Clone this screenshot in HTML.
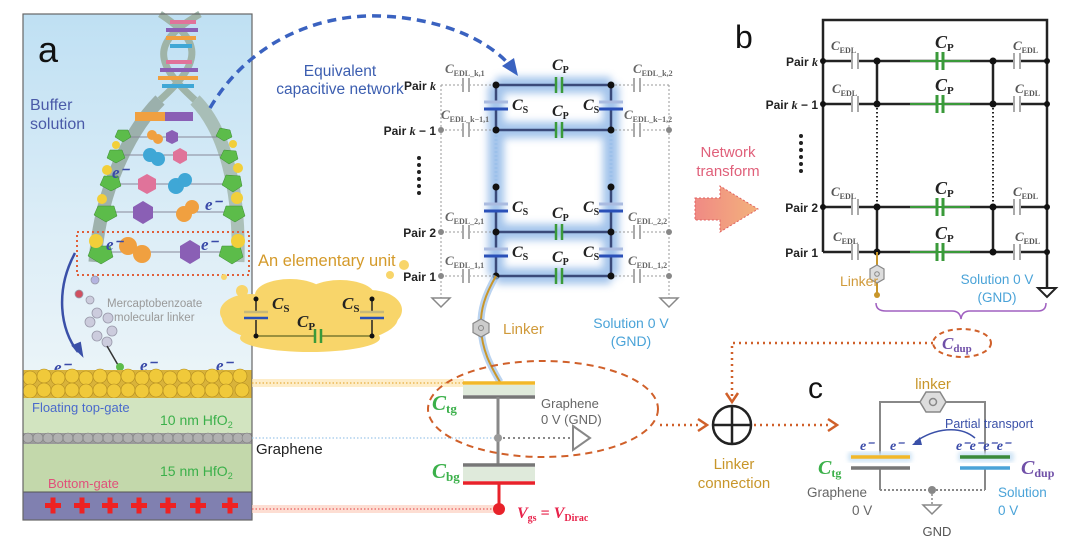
<!DOCTYPE html>
<html><head><meta charset="utf-8"><style>
html,body{margin:0;padding:0;background:#fff;}
svg{display:block;font-family:"Liberation Sans",sans-serif;}
.ser{font-family:"Liberation Serif",serif;font-style:italic;font-weight:bold;}
</style></head><body>
<svg width="1080" height="548" viewBox="0 0 1080 548" xmlns="http://www.w3.org/2000/svg">
<defs>
<linearGradient id="sky" x1="0" y1="0" x2="0" y2="1">
<stop offset="0" stop-color="#bfe0f3"/><stop offset="0.6" stop-color="#dcedf7"/><stop offset="1" stop-color="#eaf4f8"/></linearGradient>
<linearGradient id="arr" x1="0" y1="0" x2="1" y2="0"><stop offset="0" stop-color="#f08a84"/><stop offset="1" stop-color="#f3b27c"/></linearGradient>
<filter id="blur" x="-20%" y="-20%" width="140%" height="140%"><feGaussianBlur stdDeviation="4"/></filter>
<filter id="blur2"><feGaussianBlur stdDeviation="2"/></filter>
</defs>

<!-- ===== Panel a ===== -->
<rect x="23" y="14" width="229" height="356" fill="url(#sky)"/>
<path d="M160,14 C200,40 205,60 160,100" stroke="#9fb4a8" stroke-width="7" fill="none"/>
<path d="M200,14 C155,40 150,60 195,100" stroke="#9fb4a8" stroke-width="7" fill="none"/>
<g stroke-width="4">
<line x1="170" y1="22" x2="196" y2="22" stroke="#e0739a"/><line x1="166" y1="30" x2="198" y2="30" stroke="#8a5fb5"/>
<line x1="166" y1="38" x2="196" y2="38" stroke="#f0a040"/><line x1="170" y1="46" x2="192" y2="46" stroke="#3fa7d6"/>
<line x1="166" y1="62" x2="192" y2="62" stroke="#e0739a"/><line x1="160" y1="70" x2="198" y2="70" stroke="#8a5fb5"/>
<line x1="158" y1="78" x2="198" y2="78" stroke="#f0a040"/><line x1="162" y1="86" x2="194" y2="86" stroke="#3fa7d6"/>
</g>
<path d="M160,100 C130,130 100,190 95,262" stroke="#8fa39a" stroke-width="13" fill="none" opacity="0.8"/>
<path d="M195,100 C225,130 240,190 238,262" stroke="#9fb4a8" stroke-width="13" fill="none" opacity="0.8"/>
<rect x="135" y="112" width="30" height="9" fill="#f0a040"/><rect x="165" y="112" width="28" height="9" fill="#8a5fb5"/>
<g stroke="#889" stroke-width="1">
<line x1="120" y1="137" x2="225" y2="137"/><line x1="112" y1="155" x2="230" y2="155"/><line x1="106" y1="184" x2="234" y2="184"/><line x1="100" y1="212" x2="236" y2="212"/><line x1="96" y1="252" x2="238" y2="252"/></g>
<g>
<circle cx="152" cy="135" r="5" fill="#f0a040"/><circle cx="158" cy="139" r="5" fill="#f0a040"/><polygon points="172,130 178,133 178,141 172,144 166,141 166,133" fill="#8a5fb5"/>
<circle cx="150" cy="155" r="7" fill="#3fa7d6"/><circle cx="158" cy="159" r="7" fill="#3fa7d6"/><polygon points="180,148 187,152 187,160 180,164 173,160 173,152" fill="#e0739a"/>
<polygon points="147,174 156,179 156,189 147,194 138,189 138,179" fill="#e0739a"/><circle cx="176" cy="186" r="8" fill="#3fa7d6"/><circle cx="185" cy="180" r="7" fill="#3fa7d6"/>
<polygon points="143,201 153,207 153,218 143,224 133,218 133,207" fill="#8a5fb5"/><circle cx="184" cy="214" r="8" fill="#f0a040"/><circle cx="192" cy="207" r="7" fill="#f0a040"/>
<circle cx="128" cy="246" r="9" fill="#f0a040"/><circle cx="142" cy="254" r="9" fill="#f0a040"/><polygon points="190,240 200,246 200,258 190,264 180,258 180,246" fill="#8a5fb5"/>
</g>
<g fill="#5cbc4a" stroke="#3a8a30" stroke-width="0.5">
<polygon points="118,130 128,130 131,137 123,142 115,137"/><polygon points="220,128 230,130 232,137 224,141 216,136"/>
<polygon points="110,150 122,150 125,158 116,163 107,158"/><polygon points="224,150 236,151 238,159 229,164 220,158"/>
<polygon points="104,176 118,176 121,186 111,191 100,185"/><polygon points="226,175 240,176 242,186 233,192 222,185"/>
<polygon points="98,206 114,206 117,216 106,222 94,215"/><polygon points="226,206 242,206 245,216 235,222 223,215"/>
<polygon points="92,246 110,246 113,257 101,264 88,256"/><polygon points="222,246 240,246 243,257 232,264 219,256"/>
</g>
<g fill="#f2cf3a"><circle cx="116" cy="145" r="4"/><circle cx="233" cy="144" r="4"/><circle cx="107" cy="170" r="5"/><circle cx="238" cy="168" r="5"/><circle cx="102" cy="199" r="5"/><circle cx="237" cy="198" r="6"/><circle cx="96" cy="241" r="7"/><circle cx="238" cy="241" r="7"/></g>
<g class="ser" fill="#3a4aa8" font-size="17">
<text x="112" y="178">e⁻</text><text x="205" y="210">e⁻</text><text x="106" y="250">e⁻</text><text x="201" y="250">e⁻</text>
<text x="54" y="373">e⁻</text><text x="140" y="371">e⁻</text><text x="216" y="371">e⁻</text></g>
<rect x="77" y="232" width="172" height="43" fill="none" stroke="#e0603a" stroke-width="2" stroke-dasharray="2,3"/>
<text x="30" y="110" font-size="16" fill="#4a5aa8">Buffer</text>
<text x="30" y="129" font-size="16" fill="#4a5aa8">solution</text>
<text x="38" y="62" font-size="36" fill="#111">a</text>
<path d="M75,253 C55,290 60,330 78,352" stroke="#3a50a8" stroke-width="2.5" fill="none"/>
<polygon points="73,346 82,355 80,343" fill="#3a50a8" stroke="#3a50a8" stroke-width="2"/>
<g fill="#ccd" stroke="#99a" stroke-width="0.8">
<circle cx="95" cy="280" r="4" fill="#b4b4e0"/><circle cx="79" cy="294" r="4" fill="#d05060"/><circle cx="90" cy="300" r="4"/>
<circle cx="97" cy="313" r="5"/><circle cx="108" cy="318" r="5"/><circle cx="90" cy="322" r="5"/><circle cx="112" cy="331" r="5"/><circle cx="97" cy="336" r="5"/><circle cx="107" cy="342" r="5"/></g>
<line x1="107" y1="346" x2="118" y2="365" stroke="#333" stroke-width="1.5"/>
<circle cx="120" cy="367" r="4" fill="#5cbc4a"/>
<text x="107" y="307" font-size="11.5" fill="#999">Mercaptobenzoate</text>
<text x="114" y="321" font-size="11.5" fill="#999">molecular linker</text>
<rect x="23" y="370" width="229" height="28" fill="#d9b33a"/>
<g fill="#f0c93a" stroke="#b08a20" stroke-width="0.6">
<circle cx="30" cy="378" r="7"/><circle cx="44" cy="376" r="7"/><circle cx="58" cy="378" r="7"/><circle cx="72" cy="376" r="7"/><circle cx="86" cy="378" r="7"/><circle cx="100" cy="376" r="7"/><circle cx="114" cy="378" r="7"/><circle cx="128" cy="376" r="7"/><circle cx="142" cy="378" r="7"/><circle cx="156" cy="376" r="7"/><circle cx="170" cy="378" r="7"/><circle cx="184" cy="376" r="7"/><circle cx="198" cy="378" r="7"/><circle cx="212" cy="376" r="7"/><circle cx="226" cy="378" r="7"/><circle cx="240" cy="376" r="7"/>
<circle cx="30" cy="391" r="7"/><circle cx="44" cy="390" r="7"/><circle cx="58" cy="391" r="7"/><circle cx="72" cy="390" r="7"/><circle cx="86" cy="391" r="7"/><circle cx="100" cy="390" r="7"/><circle cx="114" cy="391" r="7"/><circle cx="128" cy="390" r="7"/><circle cx="142" cy="391" r="7"/><circle cx="156" cy="390" r="7"/><circle cx="170" cy="391" r="7"/><circle cx="184" cy="390" r="7"/><circle cx="198" cy="391" r="7"/><circle cx="212" cy="390" r="7"/><circle cx="226" cy="391" r="7"/><circle cx="242" cy="390" r="7"/></g>
<rect x="23" y="398" width="229" height="35" fill="#d2e4c0"/>
<rect x="23" y="444" width="229" height="48" fill="#c3d8ab"/>
<rect x="23" y="433" width="229" height="11" fill="#9a9a9a"/>
<g fill="#b0b0b0" stroke="#777" stroke-width="0.5">
<circle cx="28" cy="438" r="5"/><circle cx="38" cy="438" r="5"/><circle cx="48" cy="438" r="5"/><circle cx="58" cy="438" r="5"/><circle cx="68" cy="438" r="5"/><circle cx="78" cy="438" r="5"/><circle cx="88" cy="438" r="5"/><circle cx="98" cy="438" r="5"/><circle cx="108" cy="438" r="5"/><circle cx="118" cy="438" r="5"/><circle cx="128" cy="438" r="5"/><circle cx="138" cy="438" r="5"/><circle cx="148" cy="438" r="5"/><circle cx="158" cy="438" r="5"/><circle cx="168" cy="438" r="5"/><circle cx="178" cy="438" r="5"/><circle cx="188" cy="438" r="5"/><circle cx="198" cy="438" r="5"/><circle cx="208" cy="438" r="5"/><circle cx="218" cy="438" r="5"/><circle cx="228" cy="438" r="5"/><circle cx="238" cy="438" r="5"/><circle cx="247" cy="438" r="5"/></g>
<rect x="23" y="492" width="229" height="28" fill="#8080b0" stroke="#555" stroke-width="1"/>
<g fill="#ee2222">
<rect x="45" y="503" width="16" height="5"/><rect x="50.5" y="497.5" width="5" height="16"/>
<rect x="74" y="503" width="16" height="5"/><rect x="79.5" y="497.5" width="5" height="16"/>
<rect x="102" y="503" width="16" height="5"/><rect x="107.5" y="497.5" width="5" height="16"/>
<rect x="131" y="503" width="16" height="5"/><rect x="136.5" y="497.5" width="5" height="16"/>
<rect x="160" y="503" width="16" height="5"/><rect x="165.5" y="497.5" width="5" height="16"/>
<rect x="190" y="503" width="16" height="5"/><rect x="195.5" y="497.5" width="5" height="16"/>
<rect x="222" y="503" width="16" height="5"/><rect x="227.5" y="497.5" width="5" height="16"/></g>
<rect x="23" y="14" width="229" height="506" fill="none" stroke="#666" stroke-width="1.2"/>
<text x="32" y="412" font-size="13" fill="#4a6acb">Floating top-gate</text>
<text x="160" y="425" font-size="14" fill="#3bb04a">10 nm HfO<tspan font-size="9" dy="3">2</tspan></text>
<text x="160" y="476" font-size="14" fill="#3bb04a">15 nm HfO<tspan font-size="9" dy="3">2</tspan></text>
<text x="48" y="488" font-size="13" fill="#e0507a">Bottom-gate</text>
<text x="256" y="454" font-size="15" fill="#222">Graphene</text>

<rect x="252" y="379" width="212" height="8" fill="#fde6b0" opacity="0.7"/>
<line x1="252" y1="383" x2="464" y2="383" stroke="#e8b040" stroke-width="1.2" stroke-dasharray="1.5,2"/>
<line x1="252" y1="438" x2="496" y2="438" stroke="#9fc8ea" stroke-width="1.2" stroke-dasharray="1.5,2"/>
<rect x="252" y="505" width="248" height="8" fill="#fcd0c0" opacity="0.7"/>
<line x1="252" y1="509" x2="496" y2="509" stroke="#e86060" stroke-width="1.2" stroke-dasharray="1.5,2"/>

<path d="M210,108 C250,40 320,14 380,16 C440,18 490,40 512,68" stroke="#3a62c0" stroke-width="3.5" fill="none" stroke-dasharray="9,6"/>
<polygon points="502,66 518,76 514,58" fill="#3a62c0"/>
<text x="340" y="76" font-size="15.5" fill="#3c5eb0" text-anchor="middle">Equivalent</text>
<text x="340" y="94" font-size="15.5" fill="#3c5eb0" text-anchor="middle">capacitive network</text>

<text x="258" y="266" font-size="16.5" fill="#d49a2a">An elementary unit</text>
<g fill="#f8d56a"><circle cx="404" cy="265" r="5"/><circle cx="390" cy="275" r="4"/><circle cx="242" cy="291" r="6"/><circle cx="224" cy="277" r="3"/></g>
<g fill="#f8d56a">
<ellipse cx="310" cy="318" rx="88" ry="28"/><ellipse cx="250" cy="312" rx="30" ry="18"/><ellipse cx="370" cy="310" rx="32" ry="20"/>
<ellipse cx="290" cy="295" rx="35" ry="16"/><ellipse cx="340" cy="296" rx="35" ry="16"/><ellipse cx="310" cy="338" rx="70" ry="14"/></g>
<g stroke="#222" stroke-width="1.5" fill="none">
<line x1="256" y1="299" x2="256" y2="313"/><line x1="256" y1="320" x2="256" y2="336"/>
<line x1="372" y1="299" x2="372" y2="313"/><line x1="372" y1="320" x2="372" y2="336"/>
<line x1="256" y1="336" x2="314" y2="336" stroke="#7a7a30"/><line x1="322" y1="336" x2="372" y2="336" stroke="#7a7a30"/></g>
<line x1="244" y1="312" x2="268" y2="312" stroke="#c8b878" stroke-width="2.5"/><line x1="244" y1="318" x2="268" y2="318" stroke="#2a50b8" stroke-width="2.5"/>
<line x1="360" y1="312" x2="384" y2="312" stroke="#c8b878" stroke-width="2.5"/><line x1="360" y1="318" x2="384" y2="318" stroke="#2a50b8" stroke-width="2.5"/>
<line x1="315" y1="329" x2="315" y2="343" stroke="#3a9a3a" stroke-width="2.5"/><line x1="321" y1="329" x2="321" y2="343" stroke="#3a9a3a" stroke-width="2.5"/>
<g fill="#111"><circle cx="256" cy="299" r="2.5"/><circle cx="256" cy="336" r="2.5"/><circle cx="372" cy="299" r="2.5"/><circle cx="372" cy="336" r="2.5"/></g>
<text x="272" y="309" class="ser" font-size="17" fill="#222">C<tspan font-size="11" dy="3" font-style="normal">S</tspan></text>
<text x="342" y="309" class="ser" font-size="17" fill="#222">C<tspan font-size="11" dy="3" font-style="normal">S</tspan></text>
<text x="297" y="327" class="ser" font-size="17" fill="#222">C<tspan font-size="11" dy="3" font-style="normal">P</tspan></text>

<!-- ===== middle network ===== -->
<g filter="url(#blur)" opacity="0.5" fill="none" stroke="#4a8ad8" stroke-width="16">
<path d="M496,85 H611 M496,130 H611 M496,232 H611 M496,276 H611 M496,85 V276 M611,85 V276"/></g>
<g stroke="#999" stroke-width="1" stroke-dasharray="2,2" fill="none">
<line x1="441" y1="85" x2="496" y2="85"/><line x1="611" y1="85" x2="669" y2="85"/>
<line x1="441" y1="130" x2="496" y2="130"/><line x1="611" y1="130" x2="669" y2="130"/>
<line x1="441" y1="232" x2="496" y2="232"/><line x1="611" y1="232" x2="669" y2="232"/>
<line x1="441" y1="276" x2="496" y2="276"/><line x1="611" y1="276" x2="669" y2="276"/>
<line x1="441" y1="85" x2="441" y2="298"/><line x1="669" y1="85" x2="669" y2="298"/></g>
<g fill="#fff"><rect x="463" y="80" width="6" height="10"/><rect x="634" y="80" width="6" height="10"/><rect x="463" y="125" width="6" height="10"/><rect x="634" y="125" width="6" height="10"/><rect x="463" y="227" width="6" height="10"/><rect x="634" y="227" width="6" height="10"/><rect x="463" y="271" width="6" height="10"/><rect x="634" y="271" width="6" height="10"/></g>
<g stroke="#aaa" stroke-width="2">
<line x1="463" y1="78" x2="463" y2="92"/><line x1="469" y1="78" x2="469" y2="92"/><line x1="634" y1="78" x2="634" y2="92"/><line x1="640" y1="78" x2="640" y2="92"/>
<line x1="463" y1="123" x2="463" y2="137"/><line x1="469" y1="123" x2="469" y2="137"/><line x1="634" y1="123" x2="634" y2="137"/><line x1="640" y1="123" x2="640" y2="137"/>
<line x1="463" y1="225" x2="463" y2="239"/><line x1="469" y1="225" x2="469" y2="239"/><line x1="634" y1="225" x2="634" y2="239"/><line x1="640" y1="225" x2="640" y2="239"/>
<line x1="463" y1="269" x2="463" y2="283"/><line x1="469" y1="269" x2="469" y2="283"/><line x1="634" y1="269" x2="634" y2="283"/><line x1="640" y1="269" x2="640" y2="283"/></g>
<g fill="#888"><circle cx="441" cy="130" r="3"/><circle cx="669" cy="130" r="3"/><circle cx="441" cy="232" r="3"/><circle cx="669" cy="232" r="3"/><circle cx="441" cy="276" r="3"/><circle cx="669" cy="276" r="3"/></g>
<g fill="none" stroke="#888" stroke-width="1.5"><polygon points="432,298 450,298 441,307"/><polygon points="660,298 678,298 669,307"/></g>
<g stroke="#3a4a7a" stroke-width="2.5" fill="none">
<line x1="496" y1="85" x2="555" y2="85"/><line x1="563" y1="85" x2="611" y2="85"/>
<line x1="496" y1="130" x2="555" y2="130"/><line x1="563" y1="130" x2="611" y2="130"/>
<line x1="496" y1="232" x2="555" y2="232"/><line x1="563" y1="232" x2="611" y2="232"/>
<line x1="496" y1="276" x2="555" y2="276"/><line x1="563" y1="276" x2="611" y2="276"/>
<line x1="496" y1="85" x2="496" y2="102"/><line x1="496" y1="110" x2="496" y2="130"/>
<line x1="611" y1="85" x2="611" y2="102"/><line x1="611" y1="110" x2="611" y2="130"/>
<line x1="496" y1="187" x2="496" y2="204"/><line x1="496" y1="212" x2="496" y2="232"/>
<line x1="611" y1="187" x2="611" y2="204"/><line x1="611" y1="212" x2="611" y2="232"/>
<line x1="496" y1="232" x2="496" y2="249"/><line x1="496" y1="257" x2="496" y2="276"/>
<line x1="611" y1="232" x2="611" y2="249"/><line x1="611" y1="257" x2="611" y2="276"/></g>
<g stroke="#9cc0ea" stroke-width="3" stroke-dasharray="2,2"><line x1="496" y1="135" x2="496" y2="185"/><line x1="611" y1="135" x2="611" y2="185"/></g>
<g stroke-width="3">
<line x1="484" y1="102" x2="508" y2="102" stroke="#aabbe0"/><line x1="484" y1="109" x2="508" y2="109" stroke="#2a50b8"/>
<line x1="599" y1="102" x2="623" y2="102" stroke="#aabbe0"/><line x1="599" y1="109" x2="623" y2="109" stroke="#2a50b8"/>
<line x1="484" y1="204" x2="508" y2="204" stroke="#aabbe0"/><line x1="484" y1="211" x2="508" y2="211" stroke="#2a50b8"/>
<line x1="599" y1="204" x2="623" y2="204" stroke="#aabbe0"/><line x1="599" y1="211" x2="623" y2="211" stroke="#2a50b8"/>
<line x1="484" y1="249" x2="508" y2="249" stroke="#aabbe0"/><line x1="484" y1="256" x2="508" y2="256" stroke="#2a50b8"/>
<line x1="599" y1="249" x2="623" y2="249" stroke="#aabbe0"/><line x1="599" y1="256" x2="623" y2="256" stroke="#2a50b8"/></g>
<g stroke="#3a9a3a" stroke-width="2.5">
<line x1="556" y1="77" x2="556" y2="93"/><line x1="562" y1="77" x2="562" y2="93"/>
<line x1="556" y1="122" x2="556" y2="138"/><line x1="562" y1="122" x2="562" y2="138"/>
<line x1="556" y1="224" x2="556" y2="240"/><line x1="562" y1="224" x2="562" y2="240"/>
<line x1="556" y1="268" x2="556" y2="284"/><line x1="562" y1="268" x2="562" y2="284"/></g>
<g fill="#111"><circle cx="496" cy="85" r="3.5"/><circle cx="611" cy="85" r="3.5"/><circle cx="496" cy="130" r="3.5"/><circle cx="611" cy="130" r="3.5"/><circle cx="496" cy="187" r="3.5"/><circle cx="611" cy="187" r="3.5"/><circle cx="496" cy="232" r="3.5"/><circle cx="611" cy="232" r="3.5"/><circle cx="496" cy="276" r="3.5"/><circle cx="611" cy="276" r="3.5"/></g>
<g font-size="12" font-weight="bold" fill="#222" text-anchor="end">
<text x="436" y="90">Pair <tspan class="ser">k</tspan></text><text x="436" y="135">Pair <tspan class="ser">k</tspan> − 1</text>
<text x="436" y="237">Pair 2</text><text x="436" y="281">Pair 1</text></g>
<g fill="#222"><circle cx="419" cy="158" r="2"/><circle cx="419" cy="165" r="2"/><circle cx="419" cy="172" r="2"/><circle cx="419" cy="179" r="2"/><circle cx="419" cy="186" r="2"/><circle cx="419" cy="193" r="2"/></g>
<g class="ser" fill="#666" font-size="13">
<text x="445" y="73">C<tspan font-size="8" font-style="normal" dy="3">EDL_k,1</tspan></text>
<text x="633" y="73">C<tspan font-size="8" font-style="normal" dy="3">EDL_k,2</tspan></text>
<text x="441" y="119">C<tspan font-size="8" font-style="normal" dy="3">EDL_k−1,1</tspan></text>
<text x="624" y="119">C<tspan font-size="8" font-style="normal" dy="3">EDL_k−1,2</tspan></text>
<text x="445" y="221">C<tspan font-size="8" font-style="normal" dy="3">EDL_2,1</tspan></text>
<text x="628" y="221">C<tspan font-size="8" font-style="normal" dy="3">EDL_2,2</tspan></text>
<text x="445" y="265">C<tspan font-size="8" font-style="normal" dy="3">EDL_1,1</tspan></text>
<text x="628" y="265">C<tspan font-size="8" font-style="normal" dy="3">EDL_1,2</tspan></text></g>
<g class="ser" fill="#222" font-size="16">
<text x="552" y="70">C<tspan font-size="10" font-style="normal" dy="3">P</tspan></text>
<text x="552" y="116">C<tspan font-size="10" font-style="normal" dy="3">P</tspan></text>
<text x="552" y="218">C<tspan font-size="10" font-style="normal" dy="3">P</tspan></text>
<text x="552" y="262">C<tspan font-size="10" font-style="normal" dy="3">P</tspan></text>
<text x="512" y="110">C<tspan font-size="10" font-style="normal" dy="3">S</tspan></text>
<text x="583" y="110">C<tspan font-size="10" font-style="normal" dy="3">S</tspan></text>
<text x="512" y="212">C<tspan font-size="10" font-style="normal" dy="3">S</tspan></text>
<text x="583" y="212">C<tspan font-size="10" font-style="normal" dy="3">S</tspan></text>
<text x="512" y="257">C<tspan font-size="10" font-style="normal" dy="3">S</tspan></text>
<text x="583" y="257">C<tspan font-size="10" font-style="normal" dy="3">S</tspan></text></g>
<path d="M496,276 C485,295 480,310 481,328 C482,350 490,365 500,382" stroke="#9cc0ea" stroke-width="7" fill="none" opacity="0.7"/>
<path d="M496,276 C485,295 480,310 481,328 C482,350 490,365 500,382" stroke="#c8962a" stroke-width="2" fill="none"/>
<polygon points="481,319 489,323.5 489,332.5 481,337 473,332.5 473,323.5" fill="#ccc" stroke="#888" stroke-width="1.2"/><circle cx="481" cy="328" r="2.5" fill="none" stroke="#888"/>
<text x="503" y="334" font-size="15" fill="#d09a3a">Linker</text>
<text x="631" y="328" font-size="14" fill="#4aa3d8" text-anchor="middle">Solution 0 V</text>
<text x="631" y="346" font-size="14" fill="#4aa3d8" text-anchor="middle">(GND)</text>

<rect x="463" y="385" width="72" height="10" fill="#dfeadb"/>
<line x1="463" y1="383" x2="535" y2="383" stroke="#f2b82a" stroke-width="3.5"/>
<line x1="463" y1="397" x2="535" y2="397" stroke="#777" stroke-width="3.5"/>
<line x1="498" y1="397" x2="498" y2="465" stroke="#888" stroke-width="3"/>
<line x1="498" y1="438" x2="570" y2="438" stroke="#888" stroke-width="2" stroke-dasharray="2,3"/>
<polygon points="573,426 590,438 573,450" fill="#fff" stroke="#888" stroke-width="2"/>
<circle cx="498" cy="438" r="4" fill="#999"/>
<rect x="463" y="467" width="72" height="14" fill="#dfeadb"/>
<line x1="463" y1="465" x2="535" y2="465" stroke="#777" stroke-width="3.5"/>
<line x1="463" y1="483" x2="535" y2="483" stroke="#e8222a" stroke-width="3.5"/>
<line x1="499" y1="483" x2="499" y2="505" stroke="#e8222a" stroke-width="3"/>
<circle cx="499" cy="509" r="6" fill="#e8222a"/>
<text x="517" y="518" class="ser" font-size="16" fill="#e8224a">V<tspan font-size="10" font-style="normal" dy="3">gs</tspan><tspan dy="-3" font-style="normal"> = </tspan>V<tspan font-size="10" font-style="normal" dy="3">Dirac</tspan></text>
<text x="432" y="410" class="ser" font-size="21" fill="#3bb04a">C<tspan font-size="13" font-style="normal" dy="3">tg</tspan></text>
<text x="432" y="478" class="ser" font-size="21" fill="#3bb04a">C<tspan font-size="13" font-style="normal" dy="3">bg</tspan></text>
<text x="541" y="408" font-size="13" fill="#666">Graphene</text>
<text x="541" y="424" font-size="13" fill="#666">0 V (GND)</text>
<ellipse cx="543" cy="409" rx="115" ry="48" fill="none" stroke="#d0602a" stroke-width="2" stroke-dasharray="7,5"/>

<line x1="660" y1="425" x2="700" y2="425" stroke="#d0602a" stroke-width="2.5" stroke-dasharray="2,4"/>
<polyline points="698,419 707,425 698,431" fill="none" stroke="#d0602a" stroke-width="2.5"/>
<circle cx="732" cy="425" r="19" fill="none" stroke="#222" stroke-width="2.5"/>
<line x1="713" y1="425" x2="751" y2="425" stroke="#222" stroke-width="2.5"/><line x1="732" y1="406" x2="732" y2="444" stroke="#222" stroke-width="2.5"/>
<polyline points="933,343 732,343 732,398" fill="none" stroke="#d0602a" stroke-width="2.5" stroke-dasharray="2,4"/>
<polyline points="726,393 732,402 738,393" fill="none" stroke="#d0602a" stroke-width="2.5"/>
<line x1="754" y1="425" x2="830" y2="425" stroke="#d0602a" stroke-width="2.5" stroke-dasharray="2,4"/>
<polyline points="828,419 837,425 828,431" fill="none" stroke="#d0602a" stroke-width="2.5"/>
<text x="734" y="469" font-size="15" fill="#c8962a" text-anchor="middle">Linker</text>
<text x="734" y="488" font-size="15" fill="#c8962a" text-anchor="middle">connection</text>

<text x="728" y="157" font-size="15" fill="#e0607a" text-anchor="middle">Network</text>
<text x="728" y="176" font-size="15" fill="#e0607a" text-anchor="middle">transform</text>
<polygon points="695,198 720,198 720,186 758,209 720,232 720,220 695,220" fill="url(#arr)" stroke="#e06060" stroke-width="1" stroke-dasharray="2,2"/>

<!-- ===== Panel b ===== -->
<text x="735" y="48" font-size="32" fill="#111">b</text>
<g stroke="#222" stroke-width="2.5" fill="none">
<polyline points="823,252 823,20 1047,20 1047,288"/>
<line x1="823" y1="61" x2="852" y2="61"/><line x1="858" y1="61" x2="937" y2="61"/><line x1="943" y1="61" x2="1014" y2="61"/><line x1="1020" y1="61" x2="1047" y2="61"/>
<line x1="823" y1="104" x2="852" y2="104"/><line x1="858" y1="104" x2="937" y2="104"/><line x1="943" y1="104" x2="1014" y2="104"/><line x1="1020" y1="104" x2="1047" y2="104"/>
<line x1="823" y1="207" x2="852" y2="207"/><line x1="858" y1="207" x2="937" y2="207"/><line x1="943" y1="207" x2="1014" y2="207"/><line x1="1020" y1="207" x2="1047" y2="207"/>
<line x1="823" y1="252" x2="852" y2="252"/><line x1="858" y1="252" x2="937" y2="252"/><line x1="943" y1="252" x2="1014" y2="252"/><line x1="1020" y1="252" x2="1047" y2="252"/>
<line x1="877" y1="61" x2="877" y2="104"/><line x1="993" y1="61" x2="993" y2="104"/>
<line x1="877" y1="207" x2="877" y2="252"/><line x1="993" y1="207" x2="993" y2="252"/></g>
<g stroke="#3a9a3a" stroke-width="2"><line x1="910" y1="61" x2="970" y2="61"/><line x1="910" y1="104" x2="970" y2="104"/><line x1="910" y1="207" x2="970" y2="207"/><line x1="910" y1="252" x2="970" y2="252"/></g>
<g stroke="#222" stroke-width="2" stroke-dasharray="1.5,2.5"><line x1="877" y1="108" x2="877" y2="203"/><line x1="993" y1="108" x2="993" y2="203"/></g>
<g stroke="#aaa" stroke-width="2">
<line x1="852" y1="53" x2="852" y2="69"/><line x1="858" y1="53" x2="858" y2="69"/><line x1="1014" y1="53" x2="1014" y2="69"/><line x1="1020" y1="53" x2="1020" y2="69"/>
<line x1="852" y1="96" x2="852" y2="112"/><line x1="858" y1="96" x2="858" y2="112"/><line x1="1014" y1="96" x2="1014" y2="112"/><line x1="1020" y1="96" x2="1020" y2="112"/>
<line x1="852" y1="199" x2="852" y2="215"/><line x1="858" y1="199" x2="858" y2="215"/><line x1="1014" y1="199" x2="1014" y2="215"/><line x1="1020" y1="199" x2="1020" y2="215"/>
<line x1="852" y1="244" x2="852" y2="260"/><line x1="858" y1="244" x2="858" y2="260"/><line x1="1014" y1="244" x2="1014" y2="260"/><line x1="1020" y1="244" x2="1020" y2="260"/></g>
<g stroke="#3a9a3a" stroke-width="3">
<line x1="937" y1="52" x2="937" y2="70"/><line x1="943" y1="52" x2="943" y2="70"/><line x1="937" y1="95" x2="937" y2="113"/><line x1="943" y1="95" x2="943" y2="113"/>
<line x1="937" y1="198" x2="937" y2="216"/><line x1="943" y1="198" x2="943" y2="216"/><line x1="937" y1="243" x2="937" y2="261"/><line x1="943" y1="243" x2="943" y2="261"/></g>
<g fill="#111">
<circle cx="823" cy="61" r="3"/><circle cx="877" cy="61" r="3.5"/><circle cx="993" cy="61" r="3.5"/><circle cx="1047" cy="61" r="3"/>
<circle cx="823" cy="104" r="3"/><circle cx="877" cy="104" r="3.5"/><circle cx="993" cy="104" r="3.5"/><circle cx="1047" cy="104" r="3"/>
<circle cx="823" cy="207" r="3"/><circle cx="877" cy="207" r="3.5"/><circle cx="993" cy="207" r="3.5"/><circle cx="1047" cy="207" r="3"/>
<circle cx="877" cy="252" r="3.5"/><circle cx="993" cy="252" r="3.5"/><circle cx="1047" cy="252" r="3"/></g>
<g font-size="12" font-weight="bold" fill="#222" text-anchor="end">
<text x="818" y="66">Pair <tspan class="ser">k</tspan></text><text x="818" y="109">Pair <tspan class="ser">k</tspan> − 1</text>
<text x="818" y="212">Pair 2</text><text x="818" y="257">Pair 1</text></g>
<g fill="#222"><circle cx="801" cy="136" r="2"/><circle cx="801" cy="143" r="2"/><circle cx="801" cy="150" r="2"/><circle cx="801" cy="157" r="2"/><circle cx="801" cy="164" r="2"/><circle cx="801" cy="171" r="2"/></g>
<g class="ser" fill="#555" font-size="13">
<text x="831" y="50">C<tspan font-size="8" font-style="normal" dy="3">EDL</tspan></text><text x="1013" y="50">C<tspan font-size="8" font-style="normal" dy="3">EDL</tspan></text>
<text x="832" y="93">C<tspan font-size="8" font-style="normal" dy="3">EDL</tspan></text><text x="1015" y="93">C<tspan font-size="8" font-style="normal" dy="3">EDL</tspan></text>
<text x="831" y="196">C<tspan font-size="8" font-style="normal" dy="3">EDL</tspan></text><text x="1013" y="196">C<tspan font-size="8" font-style="normal" dy="3">EDL</tspan></text>
<text x="833" y="241">C<tspan font-size="8" font-style="normal" dy="3">EDL</tspan></text><text x="1015" y="241">C<tspan font-size="8" font-style="normal" dy="3">EDL</tspan></text></g>
<g class="ser" fill="#222" font-size="18">
<text x="935" y="48">C<tspan font-size="11" font-style="normal" dy="3">P</tspan></text><text x="935" y="91">C<tspan font-size="11" font-style="normal" dy="3">P</tspan></text>
<text x="935" y="194">C<tspan font-size="11" font-style="normal" dy="3">P</tspan></text><text x="935" y="239">C<tspan font-size="11" font-style="normal" dy="3">P</tspan></text></g>
<line x1="877" y1="252" x2="877" y2="295" stroke="#c8962a" stroke-width="2"/>
<polygon points="877,265 884,269 884,279 877,283 870,279 870,269" fill="#ddd" stroke="#888" stroke-width="1.2"/><circle cx="877" cy="274" r="2.3" fill="none" stroke="#888"/>
<circle cx="877" cy="295" r="3" fill="#c8962a"/>
<polygon points="1038,288 1056,288 1047,297" fill="#fff" stroke="#222" stroke-width="2"/>
<text x="840" y="286" font-size="14" fill="#d09a3a">Linker</text>
<text x="997" y="284" font-size="13.5" fill="#4aa3d8" text-anchor="middle">Solution 0 V</text>
<text x="997" y="302" font-size="13.5" fill="#4aa3d8" text-anchor="middle">(GND)</text>
<path d="M876,303 Q876,311 886,311 H952 Q960,311 961,319 Q962,311 970,311 H1038 Q1046,311 1046,303" fill="none" stroke="#a060c0" stroke-width="1.5"/>
<ellipse cx="962" cy="343" rx="29" ry="14" fill="#fff" stroke="#d0602a" stroke-width="2" stroke-dasharray="5,4"/>
<text x="942" y="349" class="ser" font-size="17" fill="#7050a8">C<tspan font-size="11" font-style="normal" dy="3">dup</tspan></text>

<!-- ===== Panel c ===== -->
<text x="808" y="398" font-size="30" fill="#111">c</text>
<text x="933" y="389" font-size="15" fill="#c8962a" text-anchor="middle">linker</text>
<g stroke="#888" stroke-width="2" fill="none">
<polyline points="880,457 880,402 985,402 985,457"/>
<polyline points="880,490 985,490" stroke-dasharray="2,2"/>
<line x1="880" y1="468" x2="880" y2="490"/><line x1="985" y1="468" x2="985" y2="490"/></g>
<polygon points="920,402 926,392 940,392 946,402 940,412 926,412" fill="#ddd" stroke="#888" stroke-width="1.5"/><circle cx="933" cy="402" r="3.5" fill="none" stroke="#888" stroke-width="1.5"/>
<circle cx="932" cy="490" r="4" fill="#888"/>
<line x1="932" y1="490" x2="932" y2="504" stroke="#888" stroke-width="1.5" stroke-dasharray="2,2"/>
<polygon points="923,505 941,505 932,514" fill="#fff" stroke="#888" stroke-width="1.5"/>
<text x="937" y="536" font-size="13" fill="#555" text-anchor="middle">GND</text>
<rect x="848" y="452" width="64" height="10" rx="3" fill="#cfe4f5" filter="url(#blur2)"/>
<rect x="958" y="452" width="56" height="10" rx="3" fill="#cfe4f5" filter="url(#blur2)"/>
<line x1="851" y1="457" x2="910" y2="457" stroke="#f2b82a" stroke-width="3.5"/>
<line x1="851" y1="468" x2="910" y2="468" stroke="#777" stroke-width="3.5"/>
<line x1="960" y1="457" x2="1010" y2="457" stroke="#3a8a3a" stroke-width="3.5"/>
<line x1="960" y1="468" x2="1010" y2="468" stroke="#4aa3d8" stroke-width="3.5"/>
<path d="M975,438 C960,425 935,428 915,442" fill="none" stroke="#3a50a8" stroke-width="1.5"/>
<polygon points="912,445 920,437 922,445" fill="#3a50a8"/>
<text x="945" y="428" font-size="12.5" fill="#3a50a8">Partial transport</text>
<g class="ser" fill="#3a4aa8" font-size="14">
<text x="860" y="450">e⁻</text><text x="890" y="450">e⁻</text><text x="956" y="450">e⁻e⁻e⁻e⁻</text></g>
<text x="818" y="474" class="ser" font-size="20" fill="#3bb04a">C<tspan font-size="12" font-style="normal" dy="3">tg</tspan></text>
<text x="1021" y="474" class="ser" font-size="20" fill="#7050a8">C<tspan font-size="12" font-style="normal" dy="3">dup</tspan></text>
<text x="807" y="497" font-size="13.5" fill="#666">Graphene</text>
<text x="852" y="515" font-size="13.5" fill="#666">0 V</text>
<text x="998" y="497" font-size="13.5" fill="#4aa3d8">Solution</text>
<text x="998" y="515" font-size="13.5" fill="#4aa3d8">0 V</text>
</svg>
</body></html>
